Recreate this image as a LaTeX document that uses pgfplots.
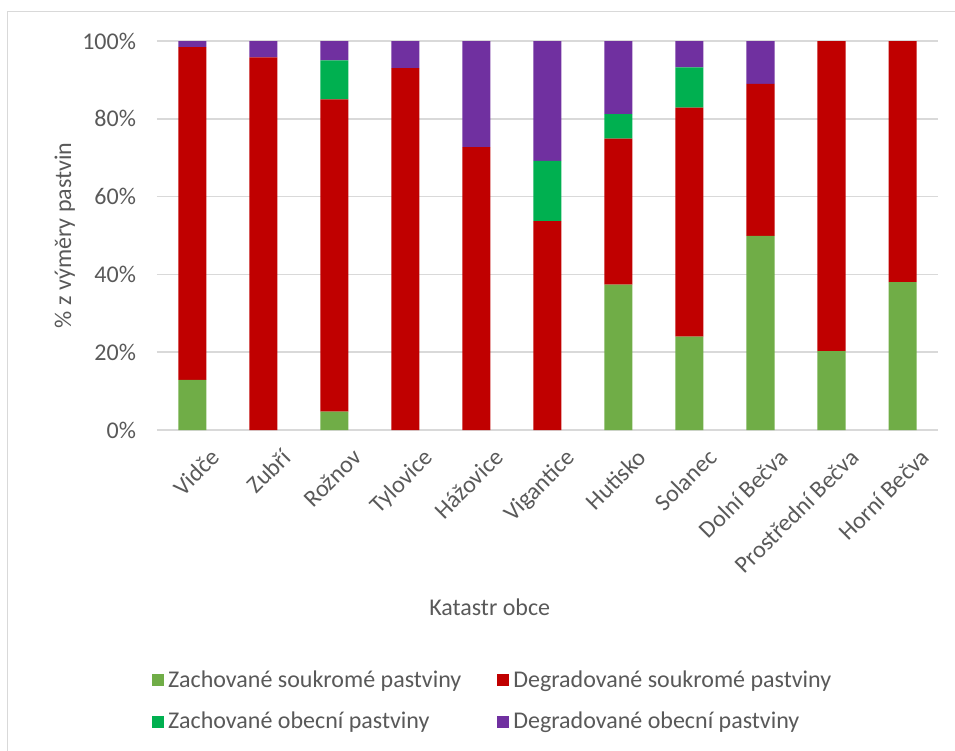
\documentclass[border=0pt]{standalone}
\usepackage{pgfplots}
\pgfplotsset{compat=1.18}
\usepackage{fontspec}
\setmainfont{Carlito}
\definecolor{gA}{HTML}{70AD47}
\definecolor{rB}{HTML}{C00000}
\definecolor{gC}{HTML}{00B050}
\definecolor{pD}{HTML}{7030A0}
\definecolor{txt}{HTML}{595959}
\definecolor{grd}{HTML}{D9D9D9}
\begin{document}
\begin{tikzpicture}
\useasboundingbox (0pt,0pt) rectangle (477.5pt,-375.5pt);
\draw[grd, line width=0.75pt] (3.75pt,-375.5pt) -- (3.75pt,-5.75pt) -- (477.5pt,-5.75pt);
\begin{axis}[
  at={(78.5pt,-215pt)}, anchor=south west,
  scale only axis, width=390.5pt, height=194.5pt,
  ybar stacked, bar width=14pt,
  xmin=-0.5, xmax=10.5, ymin=0, ymax=100,
  xtick={0,...,10},
  xticklabels={Vidče,Zubří,Rožnov,Tylovice,Hážovice,Vigantice,Hutisko,Solanec,Dolní Bečva,Prostřední Bečva,Horní Bečva},
  ytick={0,20,40,60,80,100},
  yticklabels={0\%,20\%,40\%,60\%,80\%,100\%},
  major tick length=0pt,
  axis x line*=bottom, axis y line*=left,
  x axis line style={grd, line width=0.75pt},
  y axis line style={draw=none},
  ymajorgrids, grid style={grd, line width=0.75pt},
  font=\fontsize{12}{14}\selectfont,
  tick label style={txt},
  yticklabel style={xshift=-7pt},
  xticklabel style={rotate=45, anchor=north east, inner sep=0pt, yshift=-12pt, xshift=0pt},
  ylabel={\% z výměry pastvin},
  ylabel style={txt, at={(axis description cs:-0.118,0.5)}, anchor=center},
  xlabel={Katastr obce},
  xlabel style={txt, at={(axis description cs:0.426,-0.455)}, anchor=center},
  legend columns=2,
  legend style={draw=none, at={(0.431,-0.697)}, anchor=center, text=txt,
    /tikz/every even column/.append style={column sep=16pt},
    row sep=7pt},
  legend cell align=left,
  legend image code/.code={\fill[#1] (0pt,-3pt) rectangle (6pt,3pt);},
]
\addplot[fill=gA, draw=none] coordinates {(0,12.9) (1,0) (2,4.7) (3,0) (4,0) (5,0) (6,37.4) (7,24.0) (8,49.9) (9,20.3) (10,38.0)};
\addplot[fill=rB, draw=none] coordinates {(0,85.5) (1,95.8) (2,80.3) (3,93.0) (4,72.7) (5,53.7) (6,37.5) (7,58.9) (8,39.1) (9,79.7) (10,62.0)};
\addplot[fill=gC, draw=none] coordinates {(0,0) (1,0) (2,10.0) (3,0) (4,0) (5,15.5) (6,6.3) (7,10.3) (8,0) (9,0) (10,0)};
\addplot[fill=pD, draw=none] coordinates {(0,1.6) (1,4.2) (2,5.0) (3,7.0) (4,27.3) (5,30.8) (6,18.8) (7,6.8) (8,11.0) (9,0) (10,0)};
\legend{Zachované soukromé pastviny,Degradované soukromé pastviny,Zachované obecní pastviny,Degradované obecní pastviny}
\end{axis}
\end{tikzpicture}
\end{document}
